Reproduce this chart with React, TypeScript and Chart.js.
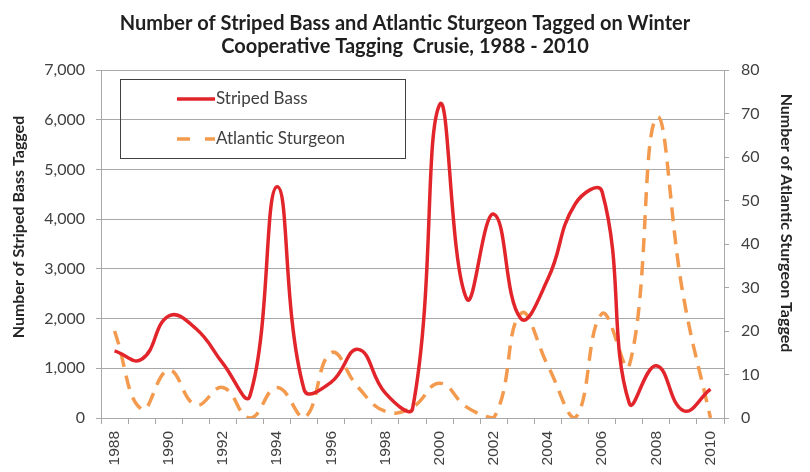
import React, { useEffect, useRef } from "react";
import { Chart, registerables } from "chart.js";

Chart.register(...registerables);

const years = ["1988","1989","1990","1991","1992","1993","1994","1995","1996","1997","1998","1999","2000","2001","2002","2003","2004","2005","2006","2007","2008","2009","2010"];
const stripedBass = [1350, 1180, 2050, 1800, 1100, 450, 4650, 570, 720, 1380, 500, 180, 6300, 2400, 4100, 2000, 2800, 4300, 4550, 300, 1050, 150, 580];
const atlanticSturgeon = [20, 2, 11, 3, 7, 0, 7, 0, 15, 7, 1.5, 2.5, 8, 2.5, 0, 24, 12, 0, 24, 12, 69, 28, 0];
const titleLines = ["Number of Striped Bass and Atlantic Sturgeon Tagged on Winter", "Cooperative Tagging  Crusie, 1988 - 2010"];
const leftAxisTitle = "Number of Striped Bass Tagged";
const rightAxisTitle = "Number of Atlantic Sturgeon Tagged";
const seriesNames = ["Striped Bass", "Atlantic Sturgeon"];

const RED = "#e2252b";
const ORANGE = "#f39a4e";
const GRID = "#a8a8a8";
const TEXT = "#404040";
const FONT = "Lato, 'Open Sans', sans-serif";

const overlayPlugin = {
  id: "overlay",
  afterDraw(chart: any) {
    const ctx = chart.ctx;
    ctx.save();
    // axis titles
    ctx.fillStyle = "#262626";
    ctx.font = `bold 16px ${FONT}`;
    ctx.textAlign = "center";
    ctx.textBaseline = "middle";
    ctx.save();
    ctx.translate(19, 227);
    ctx.rotate(-Math.PI / 2);
    ctx.fillText(leftAxisTitle, 0, 0);
    ctx.restore();
    ctx.save();
    ctx.translate(786, 223);
    ctx.rotate(Math.PI / 2);
    ctx.fillText(rightAxisTitle, 0, 0);
    ctx.restore();
    // legend box
    ctx.strokeStyle = "#404040";
    ctx.lineWidth = 1;
    ctx.strokeRect(120.5, 79.5, 285, 79);
    ctx.lineWidth = 3.5;
    ctx.strokeStyle = RED;
    ctx.setLineDash([]);
    ctx.beginPath();
    ctx.moveTo(177, 99);
    ctx.lineTo(215, 99);
    ctx.stroke();
    ctx.strokeStyle = ORANGE;
    ctx.beginPath();
    ctx.moveTo(177, 139);
    ctx.lineTo(190, 139);
    ctx.moveTo(205, 139);
    ctx.lineTo(215, 139);
    ctx.stroke();
    ctx.fillStyle = TEXT;
    ctx.font = `17px ${FONT}`;
    ctx.textAlign = "left";
    ctx.fillText(seriesNames[0], 216, 99);
    ctx.fillText(seriesNames[1], 216, 139);
    ctx.restore();
  },
};

export default function App() {
  const ref = useRef<HTMLCanvasElement | null>(null);
  useEffect(() => {
    if (!ref.current) return;
    const chart = new Chart(ref.current, {
      type: "line",
      data: {
        labels: years,
        datasets: [
          {
            label: seriesNames[0],
            data: stripedBass,
            borderColor: RED,
            backgroundColor: RED,
            borderWidth: 3.5,
            pointRadius: 0,
            tension: 0.45,
            yAxisID: "y",
            fill: false,
          },
          {
            label: seriesNames[1],
            data: atlanticSturgeon,
            borderColor: ORANGE,
            backgroundColor: ORANGE,
            borderWidth: 3.5,
            borderDash: [14, 9],
            pointRadius: 0,
            tension: 0.45,
            yAxisID: "y1",
            fill: false,
          },
        ],
      },
      options: {
        responsive: false,
        animation: false,
        layout: { padding: 0 },
        plugins: {
          legend: { display: false },
          tooltip: { enabled: false },
          title: {
            display: true,
            text: titleLines,
            color: "#1f1f1f",
            font: { family: FONT, size: 20, weight: "bold", lineHeight: 1.15 },
            padding: { top: 12.5, bottom: 11.5 },
          },
        },
        scales: {
          x: {
            type: "category",
            offset: true,
            grid: { offset: true, drawOnChartArea: false, drawTicks: true, tickLength: 6, color: GRID },
            border: { display: true, color: GRID },
            ticks: {
              autoSkip: false,
              minRotation: 90,
              maxRotation: 90,
              padding: 7,
              color: TEXT,
              font: { family: "'Liberation Sans', Arial, sans-serif", size: 15.5 },
              callback: (_v: any, i: number) => (i % 2 === 0 ? years[i] : ""),
            },
            afterFit: (s: any) => { s.height = 54; },
          },
          y: {
            position: "left",
            min: 0,
            max: 7000,
            grid: { color: GRID, tickLength: 5 },
            border: { display: true, color: GRID },
            ticks: {
              stepSize: 1000,
              padding: 11,
              color: TEXT,
              font: { family: FONT, size: 16 },
              callback: (v: any) => Number(v).toLocaleString("en-US"),
            },
            afterFit: (s: any) => { s.width = 101; },
          },
          y1: {
            position: "right",
            min: 0,
            max: 80,
            grid: { drawOnChartArea: false, color: GRID, tickLength: 5 },
            border: { display: true, color: GRID },
            ticks: {
              stepSize: 10,
              padding: 12,
              color: TEXT,
              font: { family: FONT, size: 16 },
            },
            afterFit: (s: any) => { s.width = 86; },
          },
        },
      },
      plugins: [overlayPlugin],
    });
    return () => chart.destroy();
  }, []);
  return (
    <div style={{ position: "absolute", left: 0, top: 0, width: 810, height: 472, background: "#fff" }}>
      <canvas ref={ref} width={810} height={472} style={{ display: "block" }} />
    </div>
  );
}
